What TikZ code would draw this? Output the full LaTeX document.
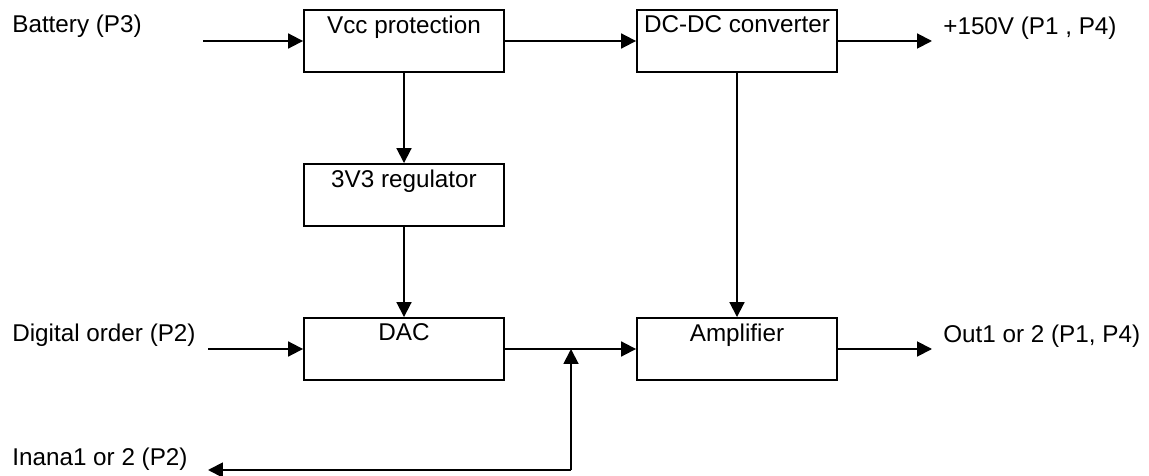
\documentclass[tikz,border=0pt]{standalone}
\usepackage{fontspec}
\setmainfont{Liberation Sans}
\usetikzlibrary{arrows.meta}
\begin{document}
\begin{tikzpicture}[x=0.02cm,y=-0.02cm,
  font=\fontsize{13.8}{16.5}\selectfont,
  blk/.style={draw, line width=1.1pt, minimum width=4cm, minimum height=1.24cm, inner sep=0pt},
  ttl/.style={anchor=north, inner sep=0pt, yshift=-3.6pt},
  txt/.style={anchor=west, inner sep=0pt},
  arr/.style={line width=1.1pt, -{Triangle[length=8.5pt,width=8.5pt]}}]
\useasboundingbox (0,0) rectangle (1149,476);

% blocks
\node[blk] (vcc)  at (404,41)  {};
\node[blk] (dcdc) at (737,41)  {};
\node[blk] (reg)  at (404,195) {};
\node[blk] (dac)  at (404,349) {};
\node[blk] (amp)  at (737,349) {};

% block titles
\node[ttl] (vcct)  at (vcc.north)  {Vcc protection};
\node[ttl] (dcdct) at (dcdc.north) {DC-DC converter};
\node[ttl] (regt)  at (reg.north)  {3V3 regulator};
\node[ttl] (dact)  at (dac.north)  {DAC};
\node[ttl] (ampt)  at (amp.north)  {Amplifier};

% external signals
\node[txt] (bat)  at (12,26)   {Battery (P3)};
\node[txt] (dig)  at (12,335)  {Digital order (P2)};
\node[txt] (ana)  at (12,459)  {Inana1 or 2 (P2)};
\node[txt] (hv)   at (943,28)  {+150V (P1 , P4)};
\node[txt] (out)  at (943,336) {Out1 or 2 (P1, P4)};

\coordinate (batin) at (203,41);
\coordinate (hvout) at (932,41);
\coordinate (digin) at (208,349);
\coordinate (aout)  at (932,349);
\coordinate (junc)  at (571,349);
\coordinate (low)   at (571,470);
\coordinate (anain) at (208,470);

% connections
\draw[arr] (batin) -- (vcc.west);
\draw[arr] (vcc.east) -- (dcdc.west);
\draw[arr] (dcdc.east) -- (hvout);
\draw[arr] (vcc.south) -- (reg.north);
\draw[arr] (reg.south) -- (dac.north);
\draw[arr] (dcdc.south) -- (amp.north);
\draw[arr] (digin) -- (dac.west);
\draw[arr] (dac.east) -- (amp.west);
\draw[arr] (amp.east) -- (aout);
\draw[arr] (low) -- (junc);
\draw[arr] (low) -- (anain);
\end{tikzpicture}
\end{document}
